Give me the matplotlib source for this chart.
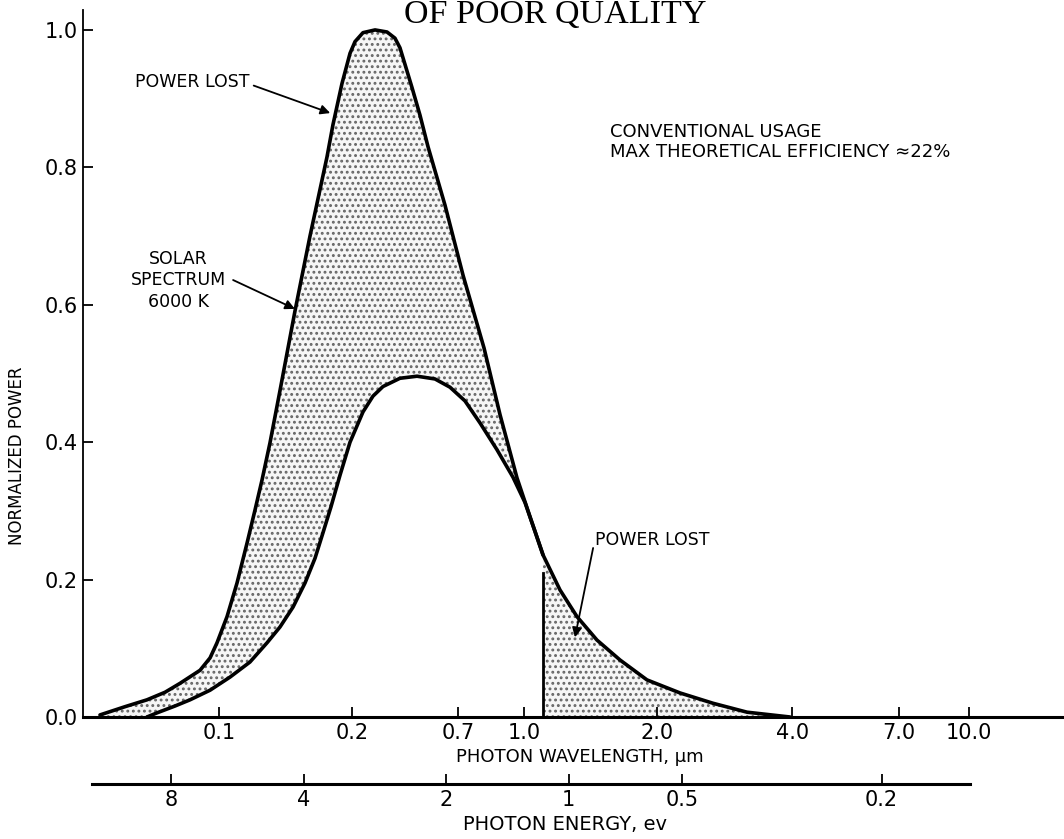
import matplotlib.pyplot as plt
import numpy as np

# The scanned wavelength/energy scales are hand drawn and not uniform, so
# horizontal values are positions along the drawn axis (0 = y axis, 100 = right edge).
wavelength_ticks = [13.9, 27.4, 38.2, 45.0, 58.5, 72.3, 83.2, 90.3]
wavelength_labels = ["0.1", "0.2", "0.7", "1.0", "2.0", "4.0", "7.0", "10.0"]
energy_ticks = [9.0, 22.5, 37.0, 49.5, 61.1, 81.4]
energy_labels = ["8", "4", "2", "1", "0.5", "0.2"]
power_ticks = [0.0, 0.2, 0.4, 0.6, 0.8, 1.0]

# solar spectrum, 6000 K (normalized)
solar_x = [1.73, 4.28, 6.52, 8.36, 9.89, 11.93, 12.95, 13.66, 14.68, 15.70,
           16.72, 17.53, 18.25, 19.06, 20.08, 21.61, 23.14, 24.87, 25.48,
           26.40, 27.22, 27.73, 28.54, 29.77, 30.99, 31.80, 32.31, 32.82,
           33.54, 34.35, 35.17, 36.90, 38.74, 40.88, 42.51, 44.24, 45.67,
           46.89, 48.62, 50.36, 52.39, 54.74, 57.49, 60.86, 64.22, 67.69, 72.07]
solar_y = [0.003, 0.015, 0.025, 0.036, 0.049, 0.068, 0.086, 0.108, 0.146, 0.195,
           0.253, 0.301, 0.345, 0.399, 0.475, 0.591, 0.700, 0.815, 0.862,
           0.922, 0.966, 0.983, 0.996, 1.000, 0.997, 0.988, 0.974, 0.950,
           0.916, 0.876, 0.830, 0.745, 0.643, 0.537, 0.440, 0.348, 0.287,
           0.236, 0.185, 0.146, 0.112, 0.083, 0.054, 0.035, 0.020, 0.007, 0.0]

# power usable by a conventional cell, cut off at the band gap
usable_x = [6.52, 7.54, 9.38, 10.91, 12.95, 14.98, 17.02, 18.76, 20.08, 21.41,
            22.63, 23.65, 24.46, 25.28, 26.20, 27.22, 28.54, 29.56, 30.58,
            32.31, 34.05, 35.88, 37.41, 38.94, 40.47, 42.20, 43.83, 45.06,
            46.08, 46.89]
usable_y = [0.0, 0.006, 0.016, 0.025, 0.039, 0.058, 0.080, 0.108, 0.131, 0.160,
            0.195, 0.231, 0.268, 0.306, 0.352, 0.400, 0.444, 0.467, 0.481,
            0.493, 0.496, 0.492, 0.480, 0.460, 0.428, 0.389, 0.349, 0.312,
            0.270, 0.236]
band_gap_x = 46.89
band_gap_top = 0.21

plt.rcParams["font.family"] = ["DejaVu Sans"]
plt.rcParams["hatch.linewidth"] = 1.3

fig = plt.figure(figsize=(10.64, 8.39), dpi=100)
ax = fig.add_axes([83 / 1064, 122 / 839, 981 / 1064, 707 / 839])
ax.set_xlim(0, 100)
ax.set_ylim(0, 1.029)

# shaded "power lost" regions
xs = np.array(solar_x)
left_x = np.union1d(xs[xs <= band_gap_x], usable_x)
ax.fill_between(left_x, np.interp(left_x, usable_x, usable_y, left=0.0),
                np.interp(left_x, solar_x, solar_y),
                facecolor="#f6f6f6", edgecolor="#666666", hatch="...",
                linewidth=0)
right_x = np.concatenate([[band_gap_x], xs[xs > band_gap_x]])
ax.fill_between(right_x, 0, np.interp(right_x, solar_x, solar_y),
                facecolor="#f6f6f6", edgecolor="#666666", hatch="...",
                linewidth=0)

ax.plot(solar_x, solar_y, color="black", lw=2.6, solid_capstyle="round",
        solid_joinstyle="round")
ax.plot(usable_x, usable_y, color="black", lw=2.6, solid_capstyle="round",
        solid_joinstyle="round")
ax.plot([band_gap_x, band_gap_x], [0, band_gap_top], color="black", lw=2.0)

for side in ["top", "right"]:
    ax.spines[side].set_visible(False)
ax.spines["left"].set_linewidth(1.3)
ax.spines["bottom"].set_linewidth(2.2)

ax.set_yticks(power_ticks)
ax.set_yticklabels([f"{v:.1f}" for v in power_ticks])
ax.set_xticks(wavelength_ticks)
ax.set_xticklabels(wavelength_labels)
ax.tick_params(direction="in", length=7, width=1.3, labelsize=15, pad=4)
ax.set_ylabel("NORMALIZED POWER", fontsize=12, labelpad=10)
ax.yaxis.set_label_coords(-0.058, 0.37)

# secondary (photon energy) scale below
ax_e = fig.add_axes([83 / 1064, 55 / 839, 981 / 1064, 0.001])
ax_e.set_xlim(0, 100)
ax_e.set_yticks([])
for side in ["top", "right", "left"]:
    ax_e.spines[side].set_visible(False)
ax_e.spines["bottom"].set_bounds(0.9, 90.4)
ax_e.spines["bottom"].set_linewidth(2.2)
ax_e.patch.set_visible(False)
ax_e.set_xticks(energy_ticks)
ax_e.set_xticklabels(energy_labels)
ax_e.tick_params(direction="in", length=7, width=1.3, labelsize=15, pad=4)

fig.text(580 / 1064, 1 - 757 / 839, "PHOTON WAVELENGTH, µm", fontsize=13,
         ha="center", va="center")
fig.text(565 / 1064, 1 - 825 / 839, "PHOTON ENERGY, ev", fontsize=14,
         ha="center", va="center")
fig.text(555 / 1064, 1 - 15 / 839, "OF POOR QUALITY", fontsize=24.5,
         family="Liberation Serif", ha="center", va="center")

arrow = dict(arrowstyle="-|>", color="black", lw=1.3, mutation_scale=14,
             shrinkA=0, shrinkB=0)
ax.text(5.3, 0.924, "POWER LOST", fontsize=12.5, va="center")
ax.annotate("", xy=(25.2, 0.879), xytext=(17.4, 0.919), arrowprops=arrow)
ax.text(9.7, 0.636, "SOLAR\nSPECTRUM\n6000 K", fontsize=12.5, ha="center",
        va="center", linespacing=1.25)
ax.annotate("", xy=(21.6, 0.594), xytext=(15.3, 0.636), arrowprops=arrow)
ax.text(52.2, 0.258, "POWER LOST", fontsize=12.5, va="center")
ax.annotate("", xy=(50.15, 0.116), xytext=(52.0, 0.246), arrowprops=arrow)
ax.text(53.7, 0.837, "CONVENTIONAL USAGE\nMAX THEORETICAL EFFICIENCY \u224822%",
        fontsize=13, va="center", linespacing=1.2)

fig.savefig("out.png", dpi=100)
